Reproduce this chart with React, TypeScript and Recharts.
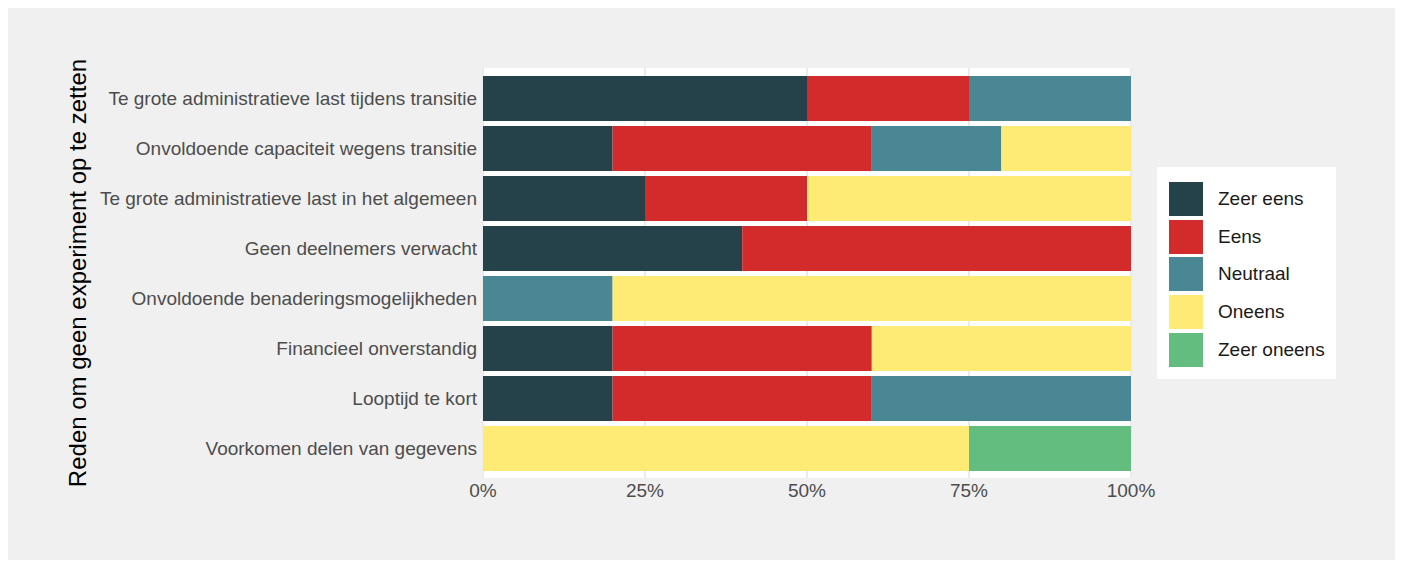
import { BarChart, Bar, XAxis, YAxis, CartesianGrid, Legend } from 'recharts';

const REASONS = [
  'Te grote administratieve last tijdens transitie',
  'Onvoldoende capaciteit wegens transitie',
  'Te grote administratieve last in het algemeen',
  'Geen deelnemers verwacht',
  'Onvoldoende benaderingsmogelijkheden',
  'Financieel onverstandig',
  'Looptijd te kort',
  'Voorkomen delen van gegevens',
];

// share of answers per reason, in %
const ZEER_EENS = [50, 20, 25, 40, 0, 20, 20, 0];
const EENS = [25, 40, 25, 60, 0, 40, 40, 0];
const NEUTRAAL = [25, 20, 0, 0, 20, 0, 40, 0];
const ONEENS = [0, 20, 50, 0, 80, 40, 0, 75];
const ZEER_ONEENS = [0, 0, 0, 0, 0, 0, 0, 25];

const X_TICKS = [0, 25, 50, 75, 100];

const SERIES = [
  { key: 'zeerEens', label: 'Zeer eens', color: '#25424a' },
  { key: 'eens', label: 'Eens', color: '#d32b2b' },
  { key: 'neutraal', label: 'Neutraal', color: '#4a8794' },
  { key: 'oneens', label: 'Oneens', color: '#fdeb76' },
  { key: 'zeerOneens', label: 'Zeer oneens', color: '#62bd7e' },
];

const data = REASONS.map((reason, i) => ({
  reason,
  zeerEens: ZEER_EENS[i],
  eens: EENS[i],
  neutraal: NEUTRAAL[i],
  oneens: ONEENS[i],
  zeerOneens: ZEER_ONEENS[i],
}));

const FONT = '"Liberation Sans", Arial, sans-serif';

function LegendBox() {
  return (
    <div
      style={{
        background: '#ffffff',
        width: 179,
        height: 212,
        boxSizing: 'border-box',
        padding: '13px 0 0 12px',
        fontFamily: FONT,
      }}
    >
      {SERIES.map((s) => (
        <div key={s.key} style={{ display: 'flex', alignItems: 'center', height: 37.7 }}>
          <div style={{ width: 34, height: 34, background: s.color }} />
          <span style={{ marginLeft: 15, fontSize: 19, color: '#1a1a1a' }}>{s.label}</span>
        </div>
      ))}
    </div>
  );
}

export default function App() {
  return (
    <div
      style={{
        marginTop: -2,
        width: 1390,
        height: 554,
        background: '#f0f0f0',
        fontFamily: FONT,
      }}
    >
      <BarChart
        width={1390}
        height={554}
        data={data}
        layout="vertical"
        margin={{ top: 62, right: 267, bottom: 0, left: 0 }}
        barSize={45}
      >
        <CartesianGrid
          horizontal={false}
          fill="#ffffff"
          stroke="#ebebeb"
          strokeWidth={2}
        />
        <XAxis
          type="number"
          domain={[0, 100]}
          ticks={X_TICKS}
          tickFormatter={(v) => `${v}%`}
          axisLine={false}
          tickLine={false}
          tickSize={0}
          tickMargin={6}
          height={82}
          tick={{ fontSize: 19, fill: '#4d4d4d', fontFamily: FONT }}
        />
        <YAxis
          type="category"
          dataKey="reason"
          width={475}
          interval={0}
          axisLine={false}
          tickLine={false}
          tickSize={0}
          tickMargin={6}
          padding={{ top: 5, bottom: 5 }}
          tick={{ fontSize: 19, fill: '#4d4d4d', fontFamily: FONT }}
          label={{
            value: 'Reden om geen experiment op te zetten',
            angle: -90,
            position: 'insideLeft',
            offset: 69,
            style: { textAnchor: 'middle', fontSize: 24, fill: '#000000', fontFamily: FONT },
          }}
        />
        <Legend
          layout="vertical"
          align="center"
          verticalAlign="middle"
          content={() => <LegendBox />}
          wrapperStyle={{ left: 1149, top: 161, width: 179, height: 212 }}
        />
        {SERIES.map((s) => (
          <Bar
            key={s.key}
            dataKey={s.key}
            name={s.label}
            stackId="a"
            fill={s.color}
            isAnimationActive={false}
          />
        ))}
      </BarChart>
    </div>
  );
}
